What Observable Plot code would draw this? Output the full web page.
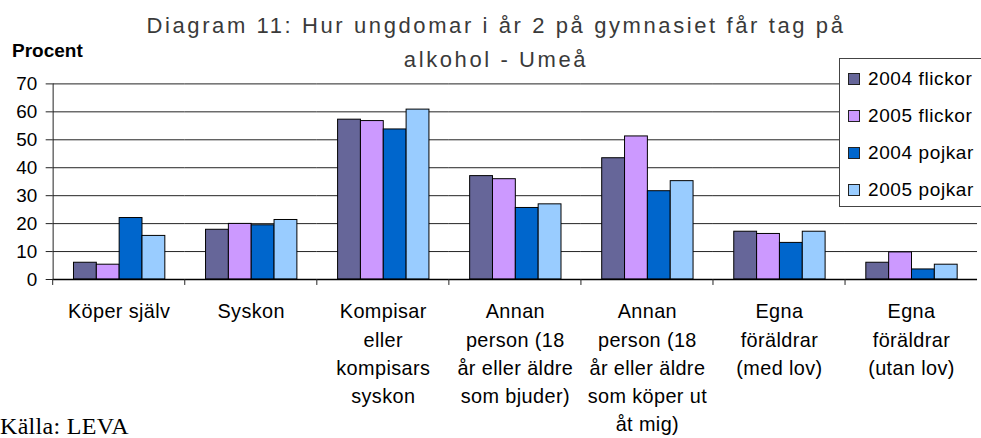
<!DOCTYPE html>
<html><head><meta charset="utf-8">
<script src="https://cdn.jsdelivr.net/npm/d3@7"></script>
<script src="https://cdn.jsdelivr.net/npm/@observablehq/plot@0.6"></script>
<style>
html,body{margin:0;padding:0;overflow:hidden;background:#fff}
#wrap{position:relative;width:981px;height:438px;overflow:hidden;font-family:"Liberation Sans",Arial,sans-serif;color:#000}
#chart{position:absolute;left:0;top:0}
#title{position:absolute;left:96px;width:800px;top:9px;text-align:center;font-size:22px;letter-spacing:2.6px;line-height:34px;color:#3a3a3a;white-space:nowrap}
#ylab{position:absolute;left:12px;top:40px;font-size:19px;font-weight:bold;}
#legend{position:absolute;left:839px;top:58px;width:160px;height:147px;border:1.5px solid #444;background:#fff}
#legend .row{position:absolute;left:8px;height:22px;font-size:19px;letter-spacing:0.6px;line-height:22px;white-space:nowrap}
#legend .sw{display:inline-block;width:10px;height:10px;border:1px solid #222;margin-right:8px;vertical-align:0px}
#source{position:absolute;left:0px;top:413px;font-family:"Liberation Serif","Times New Roman",serif;font-size:24px;letter-spacing:0.3px;white-space:nowrap}
</style></head><body><div id="wrap">
<div id="chart"></div>
<div id="title">Diagram 11: Hur ungdomar i år 2 på gymnasiet får tag på<br>alkohol - Umeå</div>
<div id="ylab">Procent</div>
<div id="legend"></div>
<div id="source">Källa: LEVA</div>
</div>
<script>
const categories = [
  "Köper själv",
  "Syskon",
  "Kompisar\neller\nkompisars\nsyskon",
  "Annan\nperson (18\når eller äldre\nsom bjuder)",
  "Annan\nperson (18\når eller äldre\nsom köper ut\nåt mig)",
  "Egna\nföräldrar\n(med lov)",
  "Egna\nföräldrar\n(utan lov)"
];
const series = ["2004 flickor", "2005 flickor", "2004 pojkar", "2005 pojkar"];
const flickor2004 = [6.0, 17.8, 57.2, 37.0, 43.4, 17.1, 6.0];
const flickor2005 = [5.3, 19.9, 56.7, 35.9, 51.2, 16.3, 9.7];
const pojkar2004 = [22.0, 19.4, 53.7, 25.6, 31.6, 13.1, 3.6];
const pojkar2005 = [15.6, 21.3, 60.8, 26.9, 35.2, 17.1, 5.3];
const colors = ["#666699", "#CC99FF", "#0066CC", "#99CCFF"];
const yTicks = [0, 10, 20, 30, 40, 50, 60, 70];

const seriesValues = [flickor2004, flickor2005, pojkar2004, pojkar2005];
const table = [];
categories.forEach((c, i) => series.forEach((s, j) => table.push({category: c, series: s, value: seriesValues[j][i]})));

const W = 988, ML = 50, MR = 1;
const halfStep = (W - ML - MR) / categories.length / 2;

const chart = Plot.plot({
  width: W, height: 438,
  marginLeft: ML, marginRight: MR, marginTop: 84, marginBottom: 157,
  style: {fontFamily: '"Liberation Sans", Arial, sans-serif', color: "#000", background: "transparent", overflow: "visible"},
  fx: {domain: categories, padding: 0, label: null},
  x: {domain: series, paddingInner: 0, paddingOuter: 0.78, axis: null},
  y: {domain: [0, 70]},
  color: {domain: series, range: colors},
  marks: [
    Plot.ruleY(yTicks, {stroke: "#222", strokeWidth: 1}),
    Plot.barY(table, {fx: "category", x: "series", y: "value", fill: "series", stroke: "#000", strokeWidth: 1}),
    Plot.ruleY([0], {stroke: "#000", strokeWidth: 1.5}),
    Plot.axisY({ticks: yTicks, tickSize: 7, tickPadding: 9, fontSize: 19, label: null, stroke: "#222"}),
    Plot.frame({anchor: "left", facetAnchor: "left", stroke: "#222"}),
    Plot.axisFx({anchor: "bottom", tickSize: 6, tickFormat: () => "", dx: -halfStep, label: null, stroke: "#222"}),
    Plot.axisFx({anchor: "bottom", tickSize: 0, tickPadding: 19, fontSize: 20, lineHeight: 1.42, label: null, style: {letterSpacing: "0.4px"}})
  ]
});
document.getElementById("chart").appendChild(chart);
chart.querySelectorAll('[aria-label="fx-axis tick label"] text').forEach(t => t.style.letterSpacing = "0.4px");

const legend = document.getElementById("legend");
series.forEach((s, j) => {
  const row = document.createElement("div");
  row.className = "row";
  row.style.top = (9 + j * 37) + "px";
  row.innerHTML = `<span class="sw" style="background:${colors[j]}"></span>${s}`;
  legend.appendChild(row);
});
</script>
</body></html>
